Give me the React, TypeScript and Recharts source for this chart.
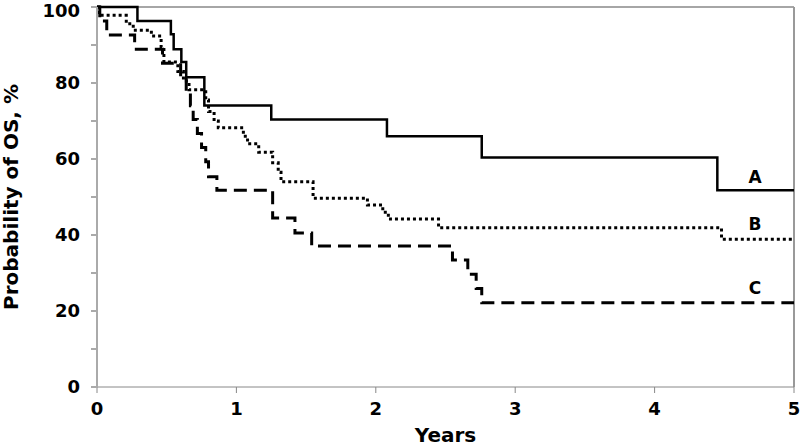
import React from 'react';
import {
  LineChart,
  Line,
  XAxis,
  YAxis,
  ReferenceLine,
  ReferenceDot
} from 'recharts';

// Kaplan-Meier step points: [years, % surviving]
const curveA: [number, number][] = [
  [0, 100], [0.29, 96.3], [0.53, 92.8], [0.55, 88.9], [0.605, 85.5],
  [0.64, 81.5], [0.77, 74.1], [1.25, 70.4], [2.08, 66], [2.76, 60.4],
  [4.45, 51.8], [5, 51.8]
];

const curveB: [number, number][] = [
  [0, 100], [0.015, 97.8], [0.21, 95.6], [0.26, 93.9], [0.39, 92.4],
  [0.46, 89.5], [0.48, 85.5], [0.58, 83], [0.62, 80.5], [0.66, 78.2],
  [0.78, 75.5], [0.8, 72.5], [0.84, 70], [0.87, 68.2], [1.05, 66],
  [1.08, 64], [1.16, 61.8], [1.26, 59], [1.3, 56.5], [1.32, 54],
  [1.55, 49.7], [1.94, 47.9], [2.05, 46], [2.09, 44.2], [2.45, 41.9],
  [4.48, 38.9], [5, 38.9]
];

const curveC: [number, number][] = [
  [0, 100], [0.02, 96.3], [0.07, 92.6], [0.27, 88.9], [0.47, 85.2],
  [0.6, 81.5], [0.64, 77.8], [0.67, 74], [0.69, 70.4], [0.72, 66.7],
  [0.75, 63], [0.78, 59.3], [0.8, 55.3], [0.86, 51.8], [1.26, 44.5],
  [1.42, 40.5], [1.54, 37.1], [2.55, 33.4], [2.66, 29.7], [2.72, 25.9],
  [2.76, 22.2], [5, 22.2]
];

const xTicks = [0, 1, 2, 3, 4, 5];
const yTicks = [0, 10, 20, 30, 40, 50, 60, 70, 80, 90, 100];

const curveLabels = [
  { name: 'A', t: 4.72, v: 55.3 },
  { name: 'B', t: 4.72, v: 42.9 },
  { name: 'C', t: 4.72, v: 26 }
];

const toRows = (pts: [number, number][]) => pts.map(([t, v]) => ({ t, v }));

const font = 'Verdana, "DejaVu Sans", sans-serif';

// y tick: label every 20, keep the top one inside the page
const YTick = (props: any) => {
  const { x, y, payload } = props;
  const v = payload.value as number;
  if (v % 20 !== 0) return null;
  return (
    <text
      x={x}
      y={Math.max(y, 11)}
      dy={6}
      textAnchor="end"
      fill="#000"
      fontSize={18}
      fontWeight="bold"
      fontFamily={font}
    >
      {v}
    </text>
  );
};

const App: React.FC = () => {
  return (
    <div style={{ position: 'absolute', left: 0, top: 0, background: '#fff' }}>
      <LineChart
        width={800}
        height={446}
        margin={{ top: 7, right: 6, left: 0, bottom: 0 }}
        style={{ fontFamily: font }}
      >
        <XAxis
          dataKey="t"
          type="number"
          domain={[0, 5]}
          ticks={xTicks}
          allowDuplicatedCategory={false}
          height={59}
          stroke="#888"
          tickSize={6}
          tickMargin={9}
          tick={{ fill: '#000', fontSize: 18, fontWeight: 'bold', fontFamily: font }}
          label={{
            value: 'Years',
            position: 'insideBottom',
            offset: 4,
            style: { fill: '#000', fontSize: 20, fontWeight: 'bold', fontFamily: font }
          }}
        />
        <YAxis
          type="number"
          domain={[0, 100]}
          ticks={yTicks}
          interval={0}
          width={97}
          stroke="#aaa"
          strokeWidth={2}
          tickSize={6}
          tickMargin={11}
          tick={<YTick />}
          label={{
            value: 'Probability of OS, %',
            angle: -90,
            position: 'insideLeft',
            offset: 11,
            style: { textAnchor: 'middle', fill: '#000', fontSize: 20, fontWeight: 'bold', fontFamily: font }
          }}
        />
        <ReferenceLine y={100} stroke="#888" strokeWidth={1.5} />
        <ReferenceLine x={5} stroke="#999" strokeWidth={2} />
        <Line
          data={toRows(curveA)}
          dataKey="v"
          type="stepAfter"
          stroke="#000"
          strokeWidth={2.5}
          dot={false}
          isAnimationActive={false}
        />
        <Line
          data={toRows(curveB)}
          dataKey="v"
          type="stepAfter"
          stroke="#000"
          strokeWidth={3}
          strokeDasharray="3 3"
          dot={false}
          isAnimationActive={false}
        />
        <Line
          data={toRows(curveC)}
          dataKey="v"
          type="stepAfter"
          stroke="#000"
          strokeWidth={3}
          strokeDasharray="13 7"
          dot={false}
          isAnimationActive={false}
        />
        {curveLabels.map((l) => (
          <ReferenceDot
            key={l.name}
            x={l.t}
            y={l.v}
            r={0}
            stroke="none"
            fill="none"
            label={{
              value: l.name,
              position: 'center',
              style: { fill: '#000', fontSize: 17, fontWeight: 'bold', fontFamily: font }
            }}
          />
        ))}
      </LineChart>
    </div>
  );
};

export default App;
